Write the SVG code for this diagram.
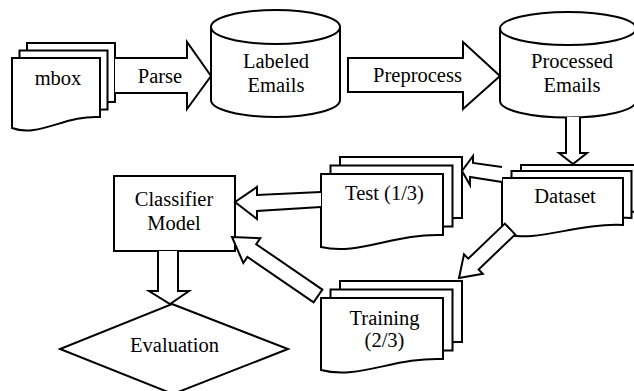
<svg xmlns="http://www.w3.org/2000/svg" width="634" height="391" viewBox="0 0 634 391">
<style>
.s{fill:#fff;stroke:#000;stroke-width:2;stroke-linejoin:miter}
text{font-family:'Liberation Serif','Times New Roman',Tinos,'Nimbus Roman','FreeSerif','DejaVu Serif',serif;font-size:20.5px;fill:#000;text-anchor:middle}
</style>
<rect width="634" height="391" fill="#fff"/>
<g id="mbox">
<path class="s" d="M27,43 H115 V102 C80,100 53,123 27,113 Z"/>
<path class="s" d="M19.5,50.5 H107.5 V109.5 C72.5,107.5 45.5,130.5 19.5,120.5 Z"/>
<path class="s" d="M12,58 H100 V117 C65,115 38,138 12,128 Z"/>
<text x="58" y="85">mbox</text>
</g>
<g id="labeled">
<path class="s" d="M211,27 V100 A64.5,17 0 0 0 340,100 V27"/>
<ellipse class="s" cx="275.5" cy="27" rx="64.5" ry="17"/>
<text x="276" y="68">Labeled</text>
<text x="276" y="92">Emails</text>
</g>
<g id="processed">
<path class="s" d="M500,28.5 V101 A68,16.5 0 0 0 636,101 V28.5"/>
<ellipse class="s" cx="568" cy="28.5" rx="68" ry="16.5"/>
<text x="572" y="68">Processed</text>
<text x="572" y="92">Emails</text>
</g>
<g id="dataset">
<path class="s" d="M521,165 H642 V212 C594,210 557,230 521,221 Z"/>
<path class="s" d="M511.5,171 H631.5 V218 C584.5,216 547.5,236 511.5,227 Z"/>
<path class="s" d="M502,178 H623 V225 C575,223 538,243 502,234 Z"/>
<text x="565" y="203">Dataset</text>
</g>
<g id="test">
<path class="s" d="M340,157 H462 V218 C413,216 377,239 340,230 Z"/>
<path class="s" d="M330.5,165.5 H452.5 V226.5 C403.5,224.5 367.5,247.5 330.5,238.5 Z"/>
<path class="s" d="M321,174 H443 V235 C394,233 358,256 321,247 Z"/>
<text x="384.5" y="200">Test (1/3)</text>
</g>
<g id="training">
<path class="s" d="M340,281 H462 V342 C413,340 377,363 340,353 Z"/>
<path class="s" d="M330.5,289.5 H452.5 V350.5 C403.5,348.5 367.5,371.5 330.5,361.5 Z"/>
<path class="s" d="M321,298 H443 V359 C394,357 358,380 321,370 Z"/>
<text x="384.5" y="325">Training</text>
<text x="384.5" y="347">(2/3)</text>
</g>
<g id="classifier">
<rect class="s" x="114" y="176" width="121" height="75"/>
<text x="174" y="206">Classifier</text>
<text x="174" y="230">Model</text>
</g>
<g id="evaluation">
<polygon class="s" points="172,304 288,349 173,394 60,349"/>
<text x="174.5" y="352">Evaluation</text>
</g>
<g id="connectors">
<path class="s" d="M115,58 H187 V42 L211,76 L187,109 V93 H115"/>
<text x="160" y="83">Parse</text>
<path class="s" d="M348,58 H463 V42 L500,76 L463,109 V92 H348 Z"/>
<text x="417.5" y="82">Preprocess</text>
<path class="s" d="M566,117 V153 H559 L573,164 L587,153 H580 V117"/>
<path class="s" d="M502,167 L473,163 L473,156 L462,171 L470,185 L470,177 L502,182"/>
<path class="s" d="M321,192 L257,195 L257,187 L235,202 L257,219 L257,211 L321,207"/>
<path class="s" d="M504.8,223.6 L468.2,258.7 L464,254.4 L459,278 L482.8,273.8 L478.6,269.5 L515.2,234.4 Z"/>
<path class="s" d="M322.4,289.6 L256.2,244.2 L260.3,238.2 L232,237 L243.3,263 L247.4,257 L313.6,302.4 Z"/>
<path class="s" d="M158,251 V291 H149 L170,304 L189,291 H178 V251"/>
</g>
</svg>
